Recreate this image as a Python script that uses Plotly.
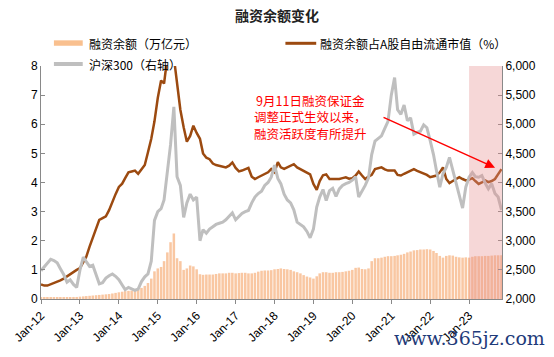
import pandas as pd
import plotly.graph_objects as go

dates = pd.date_range("2012-01-01", periods=143, freq="MS")

# 融资余额（万亿元）
margin_balance = [
    0.05, 0.05, 0.05, 0.05, 0.06, 0.06, 0.06, 0.06, 0.06, 0.06, 0.07, 0.07,
    0.08, 0.09, 0.10, 0.11, 0.12, 0.13, 0.14, 0.15, 0.16, 0.17, 0.19, 0.21,
    0.23, 0.25, 0.27, 0.28, 0.29, 0.30, 0.33, 0.38, 0.45, 0.55, 0.70, 0.95,
    1.05, 1.10, 1.30, 1.60, 1.95, 2.25, 1.40, 1.30, 1.00, 1.05, 1.15, 1.12,
    1.02, 0.85, 0.83, 0.84, 0.84, 0.84, 0.86, 0.88, 0.88, 0.88, 0.90, 0.90,
    0.88, 0.89, 0.90, 0.90, 0.88, 0.88, 0.90, 0.94, 0.97, 0.98, 0.98, 0.99,
    1.02, 1.03, 1.05, 1.03, 1.02, 1.00, 0.95, 0.92, 0.88, 0.82, 0.77, 0.74,
    0.70, 0.78, 0.88, 0.92, 0.92, 0.90, 0.90, 0.92, 0.92, 0.93, 0.95, 0.97,
    1.00, 1.07, 1.08, 1.03, 1.02, 1.05, 1.30, 1.40, 1.40, 1.42, 1.45, 1.47,
    1.47, 1.48, 1.50, 1.52, 1.55, 1.60, 1.63, 1.67, 1.68, 1.70, 1.70, 1.71,
    1.70, 1.65, 1.58, 1.48, 1.42, 1.48, 1.50, 1.49, 1.45, 1.43, 1.42, 1.43,
    1.42, 1.45, 1.47, 1.47, 1.47, 1.48, 1.48, 1.49, 1.50, 1.50, 1.50,
]

# 融资余额占A股自由流通市值（%）
margin_ratio = [
    0.50, 0.46, 0.46, 0.50, 0.55, 0.58, 0.64, 0.70, 0.78, 0.85, 0.92, 1.00,
    1.06, 1.25, 1.45, 1.80, 2.10, 2.35, 2.72, 2.78, 2.84, 3.05, 3.35, 3.60,
    3.85, 3.96, 4.15, 4.35, 4.38, 4.41, 4.30, 4.45, 4.60, 5.04, 5.50, 6.10,
    6.90, 7.50, 7.40, 8.30, 8.40, 8.30, 7.40, 6.50, 5.90, 5.40, 5.60, 5.95,
    5.70, 5.50, 5.00, 4.85, 4.80, 4.65, 4.60, 4.58, 4.55, 4.52, 4.58, 4.69,
    4.50, 4.38, 4.41, 4.47, 4.50, 4.20, 4.12, 4.18, 4.24, 4.30, 4.35, 4.46,
    4.35, 4.70, 4.52, 4.47, 4.52, 4.58, 4.63, 4.52, 4.46, 4.38, 4.33, 4.28,
    3.95, 3.75, 4.05, 4.25, 4.28, 4.12, 4.12, 4.12, 4.12, 4.15, 4.18, 4.13,
    4.15, 4.24, 4.38, 4.24, 4.12, 4.20, 4.26, 4.46, 4.50, 4.52, 4.45, 4.41,
    4.41, 4.41, 4.26, 4.24, 4.30, 4.35, 4.40, 4.46, 4.40, 4.35, 4.30, 4.26,
    4.18, 4.20, 4.24, 4.35, 4.52, 4.12, 3.98, 4.05, 4.12, 4.18, 4.12, 4.07,
    4.10, 4.15, 4.05, 3.95, 4.00, 4.07, 4.01, 4.05, 4.12, 4.28, 4.46,
]

# 沪深300（右轴）
hs300 = [
    2486, 2560, 2620, 2683, 2660, 2620, 2520, 2420, 2290, 2330, 2250, 2200,
    2500, 2720, 2640, 2560, 2580, 2400, 2260, 2280, 2360, 2400, 2430, 2390,
    2330, 2240, 2160, 2200, 2180, 2150, 2170, 2300, 2380, 2430, 2650, 3350,
    3500, 3550, 3700, 4200, 4650, 5300, 4100, 3950, 3400, 3650, 3800, 3700,
    3750, 3000, 3190, 3130, 3200, 3240, 3280, 3300, 3320, 3360, 3420, 3480,
    3360, 3420, 3470, 3500, 3520, 3650, 3750, 3810, 3850, 3950, 4000, 4090,
    4300, 4070, 3980, 3800, 3700, 3650, 3530, 3320, 3280, 3240, 3160, 3050,
    3200, 3580, 3750, 3880, 3690, 3860, 3900, 3760, 3890, 3950, 3980, 4000,
    4040, 4100, 3750, 3850, 3950, 4080, 4480, 4710, 4760, 4800, 4930, 5050,
    5500, 5800, 5250, 5170, 5330, 5060, 5110, 4830, 4860, 4880, 4990, 4940,
    4720, 4480, 4200, 3920, 4150, 4260, 4430, 4210, 3990, 3810, 3560, 3920,
    4090, 4170, 4100, 4090, 4120, 3990, 3890, 3980, 3810, 3750, 3530,
]

series_names = ["融资余额（万亿元）", "融资余额占A股自由流通市值（%）", "沪深300（右轴）"]
series_colors = ["#F9C7A2", "#9C4A10", "#BFBFBF"]

year_ticks = pd.date_range("2012-01-01", "2023-01-01", freq="YS")
year_labels = [d.strftime("Jan-%y") for d in year_ticks]
left_ticks = list(range(0, 9))
right_ticks = list(range(2000, 6001, 500))

x_start, x_end = "2012-01-01", "2023-11-06"
highlight_start = "2023-01-01"

CJK = "Noto Sans CJK SC"
LAT = "Liberation Sans"

# plot area geometry (px) used for placing non-data elements in paper coords
L, R, T, B = 38, 502, 66, 302
def px(xp):
    return (xp - L) / (R - L)
def py(yp):
    return (B - yp) / (B - T)

fig = go.Figure()
fig.add_trace(go.Bar(
    x=dates, y=margin_balance, name=series_names[0], showlegend=False,
    marker=dict(color=series_colors[0], line=dict(width=0)), yaxis="y",
))
fig.add_trace(go.Scatter(
    x=dates, y=hs300, name=series_names[2], mode="lines", showlegend=False,
    line=dict(color=series_colors[2], width=3), yaxis="y2",
))
fig.add_trace(go.Scatter(
    x=dates, y=margin_ratio, name=series_names[1], mode="lines", showlegend=False,
    line=dict(color=series_colors[1], width=2.5), yaxis="y",
))

# manual legend (swatches + text)
legend_shapes = [
    dict(type="rect", xref="paper", yref="paper", x0=px(51), x1=px(80), y0=py(45.5), y1=py(40),
         fillcolor="#F9C08F", line=dict(width=0)),
    dict(type="line", xref="paper", yref="paper", x0=px(284), x1=px(315), y0=py(43), y1=py(43),
         line=dict(color=series_colors[1], width=3)),
    dict(type="line", xref="paper", yref="paper", x0=px(51), x1=px(80), y0=py(64), y1=py(64),
         line=dict(color=series_colors[2], width=4)),
]
legend_texts = [
    dict(text=series_names[0], x=px(84), y=py(43)),
    dict(text=series_names[1], x=px(317), y=py(43)),
    dict(text=series_names[2], x=px(84), y=py(64)),
]
legend_annots = [dict(text=d["text"], xref="paper", yref="paper", x=d["x"], y=d["y"],
                      xanchor="left", yanchor="middle", showarrow=False,
                      font=dict(family=CJK, size=12, color="black")) for d in legend_texts]

fig.update_layout(
    width=554, height=357,
    margin=dict(l=L, r=554 - R, t=T, b=357 - B),
    paper_bgcolor="white", plot_bgcolor="white",
    bargap=0.15, showlegend=False,
    font=dict(family=LAT, size=12, color="black"),
    title=dict(text="<b>融资余额变化</b>", x=0.5, xanchor="center", y=1 - 16 / 357, yanchor="middle",
               font=dict(family=CJK, size=14, color="#222222")),
    xaxis=dict(type="date", range=[x_start, x_end], tickvals=year_ticks, ticktext=year_labels,
               tickangle=-45, ticks="outside", ticklen=4, tickcolor="#898989",
               showline=True, linecolor="#898989", linewidth=1, showgrid=False,
               tickfont=dict(family=LAT, size=12, color="black")),
    yaxis=dict(range=[0, 8], tickvals=left_ticks, ticks="inside", ticklen=4, tickcolor="#898989",
               showline=True, linecolor="#898989", linewidth=1, showgrid=False, zeroline=False,
               tickfont=dict(family=LAT, size=12, color="black")),
    yaxis2=dict(range=[2000, 6000], tickvals=right_ticks, tickformat=",", overlaying="y", side="right",
                ticks="inside", ticklen=4, tickcolor="#898989",
                showline=True, linecolor="#898989", linewidth=1, showgrid=False, zeroline=False,
                tickfont=dict(family=LAT, size=12, color="black")),
    shapes=[dict(type="rect", xref="x", yref="paper", x0=highlight_start, x1=x_end, y0=0, y1=1,
                 fillcolor="rgba(229,141,141,0.35)", line=dict(width=0), layer="above")]
           + legend_shapes,
    annotations=legend_annots + [
        dict(text="9月11日融资保证金<br>调整正式生效以来，<br>融资活跃度有所提升",
             xref="paper", yref="paper", x=px(309), y=py(118), xanchor="center", yanchor="middle",
             showarrow=False, align="center",
             font=dict(family=CJK, size=12.5, color="#FF0000")),
        dict(text="", xref="paper", yref="paper", x=px(495), y=py(169),
             ax=-113, ay=-51, axref="pixel", ayref="pixel", showarrow=True,
             arrowhead=2, arrowsize=1.3, arrowwidth=1.5, arrowcolor="#FF0000"),
        dict(text="www.365jz.com", xref="paper", yref="paper", x=px(547), y=py(342),
             xanchor="right", yanchor="middle", showarrow=False,
             font=dict(family="DejaVu Serif", size=19, color="#1F3B7A")),
    ],
)

fig.write_html("out.html", config={"displayModeBar": False},
               post_script="document.body.style.margin='0';document.body.style.padding='0';")
